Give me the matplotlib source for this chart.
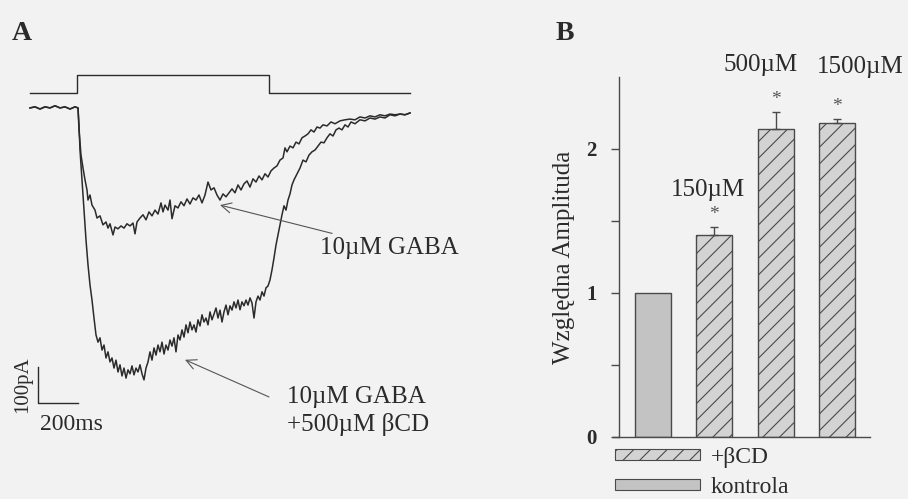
import matplotlib
matplotlib.use("Agg")
import matplotlib.pyplot as plt
import matplotlib.patches as mpatches
import numpy as np

plt.rcParams['font.family'] = ['Liberation Serif', 'DejaVu Serif']
plt.rcParams['hatch.linewidth'] = 0.8

# ---- panel A: whole-cell currents (ms, pA) ----
gaba_t = [0, 25, 50, 75, 100, 125, 150, 175, 200, 225, 240, 245, 255, 265, 275, 285, 290, 300, 310, 325,
          335, 350, 365, 380, 390, 400, 415, 425, 440, 455, 470, 485, 500, 515, 525, 535, 550, 565, 580, 595,
          610, 625, 640, 655, 665, 675, 690, 700, 710, 725, 740, 755, 770, 785, 800, 815, 830, 845, 860, 875,
          890, 905, 920, 935, 950, 965, 980, 995, 1010, 1025, 1040, 1055, 1070, 1085, 1100, 1115, 1130, 1145, 1160, 1175,
          1190, 1205, 1220, 1235, 1250, 1265, 1275, 1285, 1300, 1315, 1330, 1345, 1360, 1375, 1390, 1405, 1420, 1435, 1450, 1465,
          1485, 1505, 1525, 1550, 1575, 1600, 1625, 1650, 1675, 1700, 1725, 1750, 1775, 1800, 1825, 1850, 1875, 1900]
gaba_i = [0, 3, -3, 3, 0, 6, 0, 3, -3, 3, 0, -61, -131, -167, -200, -228, -256, -242, -270, -284,
          -306, -300, -325, -317, -334, -322, -353, -331, -336, -328, -334, -322, -328, -320, -350, -317, -306, -297, -311, -289,
          -300, -284, -295, -264, -289, -270, -284, -256, -308, -272, -278, -261, -272, -253, -267, -250, -256, -242, -264, -242,
          -206, -228, -222, -242, -256, -239, -247, -236, -225, -236, -214, -228, -211, -203, -220, -197, -206, -189, -200, -183,
          -192, -175, -167, -161, -145, -139, -111, -122, -106, -111, -95, -100, -83, -78, -72, -61, -67, -53, -56, -47,
          -50, -39, -44, -36, -33, -31, -33, -25, -28, -22, -25, -19, -22, -17, -19, -17, -19, -14]

bcd_t = [0, 25, 50, 75, 100, 125, 150, 175, 200, 225, 240, 245, 250, 260, 270, 280, 290, 300, 310, 320,
         330, 340, 350, 360, 370, 380, 390, 400, 410, 420, 430, 440, 450, 460, 470, 480, 490, 500, 510, 520,
         530, 540, 550, 560, 570, 580, 590, 600, 610, 620, 630, 640, 650, 660, 670, 680, 690, 700, 710, 720,
         730, 740, 750, 760, 770, 780, 790, 800, 810, 820, 830, 840, 850, 860, 870, 880, 890, 900, 910, 920,
         930, 940, 950, 960, 970, 980, 990, 1000, 1010, 1020, 1030, 1040, 1050, 1060, 1070, 1080, 1090, 1100, 1110, 1120,
         1130, 1140, 1150, 1160, 1170, 1180, 1190, 1200, 1210, 1220, 1230, 1240, 1250, 1260, 1270, 1280, 1290, 1300, 1310, 1320,
         1330, 1340, 1350, 1365, 1380, 1395, 1410, 1425, 1440, 1455, 1470, 1485, 1500, 1515, 1530, 1545, 1560, 1575, 1590, 1605,
         1625, 1650, 1675, 1700, 1725, 1750, 1775, 1800, 1825, 1850, 1875, 1900]
bcd_i = [0, 3, -3, 3, 0, 6, 0, 3, -3, 3, 0, -47, -117, -200, -284, -367, -436, -492, -534, -584,
         -631, -651, -639, -673, -659, -695, -678, -706, -695, -723, -701, -734, -714, -745, -723, -751, -728, -739, -717, -742,
         -723, -734, -714, -739, -756, -723, -706, -678, -701, -667, -687, -659, -678, -651, -684, -659, -673, -645, -662, -639,
         -678, -631, -645, -617, -637, -603, -625, -595, -617, -603, -623, -589, -606, -575, -595, -584, -603, -567, -589, -573,
         -556, -584, -562, -595, -567, -548, -575, -550, -562, -539, -556, -534, -561, -539, -550, -534, -548, -528, -542, -584,
         -539, -523, -534, -511, -523, -500, -495, -478, -450, -417, -381, -353, -325, -297, -272, -284, -256, -239, -214, -200,
         -189, -178, -167, -145, -150, -131, -122, -117, -106, -95, -97, -83, -72, -78, -61, -56, -61, -47, -53, -39,
         -44, -33, -36, -28, -31, -25, -28, -19, -22, -17, -19, -14]

# GABA application (command trace)
stim_t = [0, 235, 235, 1195, 1195, 1900]
stim_on = [0, 0, 1, 1, 0, 0]

# ---- panel B: relative amplitude ----
groups = ['kontrola', '150µM', '500µM', '1500µM']
amp = [1.0, 1.40, 2.14, 2.18]
amp_err = [0.0, 0.06, 0.12, 0.03]
conc_labels = ['', '150µM', '500µM', '1500µM']

ink = '#2b2b2b'
bg = '#f2f2f2'

fig = plt.figure(figsize=(9.08, 4.99), dpi=100, facecolor=bg)

# panel A
axA = fig.add_axes([0, 0, 460 / 908, 1])
axA.set_facecolor(bg)
axA.axis('off')
axA.set_xlim(-150, 2150)
axA.set_ylim(-1087, 300)

axA.plot(stim_t, 42 + 50 * np.array(stim_on), color=ink, lw=1.0)
axA.plot(gaba_t, gaba_i, color=ink, lw=1.1)
axA.plot(bcd_t, bcd_i, color=ink, lw=1.1)

# scale bars
axA.plot([38, 38, 238], [-720, -820, -820], color=ink, lw=1.0)
axA.text(-35, -770, '100pA', rotation=90, ha='center', va='center', fontsize=15, color=ink)
axA.text(205, -880, '200ms', ha='center', va='center', fontsize=17, color=ink)

axA.annotate('10µM GABA', xy=(950, -270), xytext=(1450, -389), fontsize=18, color=ink,
             va='center', ha='left',
             arrowprops=dict(arrowstyle='->', color='#555555', lw=0.8, shrinkA=2, shrinkB=0))
axA.annotate('10µM GABA\n+500µM βCD', xy=(775, -700), xytext=(1285, -842), fontsize=18, color=ink,
             va='center', ha='left', linespacing=1.25,
             arrowprops=dict(arrowstyle='->', color='#555555', lw=0.8, shrinkA=12, shrinkB=0,
                             relpos=(0, 0.62)))

fig.text(12 / 908, 1 - 33 / 499, 'A', fontsize=20, fontweight='bold', color=ink, va='center')
fig.text(556 / 908, 1 - 33 / 499, 'B', fontsize=20, fontweight='bold', color=ink, va='center')

# panel B
axB = fig.add_axes([619 / 908, 1 - 437 / 499, 251 / 908, 360 / 499])
axB.set_facecolor(bg)
x = np.arange(len(groups))
face = ['#c3c3c3', '#d3d3d3', '#d3d3d3', '#d3d3d3']
hatch = ['', '//', '//', '//']
for i in range(len(groups)):
    axB.bar(x[i], amp[i], width=0.59, color=face[i], edgecolor='#4a4a4a', hatch=hatch[i], lw=1.0, zorder=2)
    if amp_err[i] > 0:
        axB.errorbar(x[i], amp[i], yerr=[[0], [amp_err[i]]], color='#4a4a4a', lw=1.0, capsize=3, capthick=1.0, zorder=3)
        axB.text(x[i], amp[i] + amp_err[i] + 0.085, '*', ha='center', va='center', fontsize=14, color='#555555')

axB.text(0.9, 1.715, conc_labels[1], ha='center', va='center', fontsize=18, color=ink)
axB.text(1.75, 2.58, conc_labels[2], ha='center', va='center', fontsize=18, color=ink)
axB.text(3.38, 2.57, conc_labels[3], ha='center', va='center', fontsize=18, color=ink)

axB.set_xlim(-0.555, 3.54)
axB.set_ylim(0, 2.5)
axB.spines['top'].set_visible(False)
axB.spines['right'].set_visible(False)
for s in ['left', 'bottom']:
    axB.spines[s].set_color('#4a4a4a')
    axB.spines[s].set_linewidth(1.0)
axB.spines['bottom'].set_bounds(-0.65, 3.54)
axB.set_xticks([])
axB.set_yticks([0, 1, 2])
axB.set_yticklabels(['0', '1', '2'], fontweight='bold', fontsize=15, color=ink)
axB.set_yticks([0.5, 1.5], minor=True)
axB.tick_params(axis='y', which='both', direction='out', length=6, width=1.0, color='#4a4a4a', pad=10)
axB.set_ylabel('Względna Amplituda', fontsize=18, color=ink, labelpad=8)

handles = [mpatches.Patch(facecolor='#d3d3d3', edgecolor='#4a4a4a', hatch='//', lw=0.8, label='+βCD'),
           mpatches.Patch(facecolor='#c3c3c3', edgecolor='#4a4a4a', lw=0.8, label='kontrola')]
fig.legend(handles=handles, loc='upper left', bbox_to_anchor=(615 / 908, 1 - 447 / 499),
           bbox_transform=fig.transFigure, frameon=False, fontsize=17, handlelength=3.6,
           handleheight=0.35, handletextpad=0.45, labelspacing=0.38, borderpad=0, borderaxespad=0,
           labelcolor=ink)

fig.savefig('out.png', dpi=100, facecolor=bg)
